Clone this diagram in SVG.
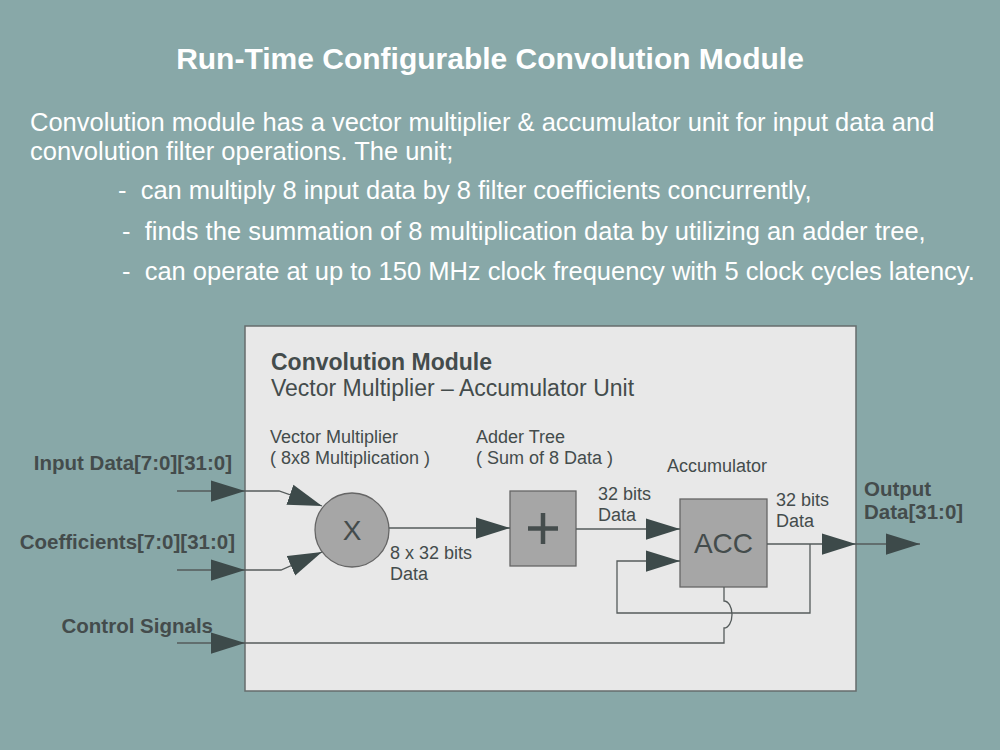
<svg xmlns="http://www.w3.org/2000/svg" width="1000" height="750" viewBox="0 0 1000 750">
<defs>
<style>
.w{fill:#fff;font-family:"Liberation Sans",Arial,sans-serif}
.d{fill:#444c4c;font-family:"Liberation Sans",Arial,sans-serif}
.b{font-weight:bold}
.ln{fill:none;stroke:#555b5b;stroke-width:1.3}
.blk{fill:#a6a6a6;stroke:#666;stroke-width:1.3}
</style>
<marker id="ah" markerUnits="userSpaceOnUse" markerWidth="34" markerHeight="22" viewBox="0 0 32 20" refX="32" refY="10" orient="auto">
<path d="M0,0 L32,10 L0,20 z" fill="#3d4a4a"/>
</marker>
</defs>
<rect x="0" y="0" width="1000" height="750" fill="#88a8a8"/>
<g id="title">
<text class="w b" x="490" y="69" font-size="30" text-anchor="middle">Run-Time Configurable Convolution Module</text>
</g>
<g id="description" class="w" font-size="25.5">
<text x="30" y="131">Convolution module has a vector multiplier &amp; accumulator unit for input data and</text>
<text x="30" y="160">convolution filter operations. The unit;</text>
<text x="118" y="199" xml:space="preserve">-  can multiply 8 input data by 8 filter coefficients concurrently,</text>
<text x="122" y="240" xml:space="preserve">-  finds the summation of 8 multiplication data by utilizing an adder tree,</text>
<text x="122" y="280" xml:space="preserve">-  can operate at up to 150 MHz clock frequency with 5 clock cycles latency.</text>
</g>
<g id="module">
<rect x="245" y="326" width="611" height="365" fill="#e8e8e8" stroke="#666c6c" stroke-width="1.5"/>
<text class="d b" x="271" y="370" font-size="23">Convolution Module</text>
<text class="d" x="271" y="396" font-size="23">Vector Multiplier – Accumulator Unit</text>
</g>
<g id="multiplier">
<circle class="blk" cx="352" cy="530" r="37"/>
<text class="d" x="352" y="540" font-size="28" text-anchor="middle">X</text>
<text class="d" x="270" y="443" font-size="18">Vector Multiplier</text>
<text class="d" x="270" y="464" font-size="18">( 8x8 Multiplication )</text>
</g>
<g id="adder">
<rect class="blk" x="510" y="491" width="66" height="75"/>
<path d="M543,513 V544 M528,528.5 H558" stroke="#454d4d" stroke-width="4.5" fill="none"/>
<text class="d" x="476" y="443" font-size="18">Adder Tree</text>
<text class="d" x="476" y="464" font-size="18">( Sum of 8 Data )</text>
</g>
<g id="accumulator">
<rect class="blk" x="680" y="499" width="87" height="88"/>
<text class="d" x="723.5" y="553" font-size="28" text-anchor="middle">ACC</text>
<text class="d" x="667" y="472" font-size="18">Accumulator</text>
</g>
<g id="connectors">
<path class="ln" d="M177,491 H245" marker-end="url(#ah)"/>
<path class="ln" d="M245,491 H279 L322,506" marker-end="url(#ah)"/>
<path class="ln" d="M177,570 H245" marker-end="url(#ah)"/>
<path class="ln" d="M245,570 H281 L322,552" marker-end="url(#ah)"/>
<path class="ln" d="M177,643 H245" marker-end="url(#ah)"/>
<path class="ln" d="M245,643 H724 V628 A8,13.5 0 0 0 724,601 V587"/>
<path class="ln" d="M389,528 H510" marker-end="url(#ah)"/>
<path class="ln" d="M576,529 H680" marker-end="url(#ah)"/>
<path class="ln" d="M767,544 H856" marker-end="url(#ah)"/>
<path class="ln" d="M856,544 H920" marker-end="url(#ah)"/>
<path class="ln" d="M810,544 V613 H617 V561 H680" marker-end="url(#ah)"/>
</g>
<g id="labels" class="d">
<text x="390" y="559" font-size="18">8 x 32 bits</text>
<text x="390" y="580" font-size="18">Data</text>
<text x="598" y="500" font-size="18">32 bits</text>
<text x="598" y="521" font-size="18">Data</text>
<text x="776" y="506" font-size="18">32 bits</text>
<text x="776" y="527" font-size="18">Data</text>
<text class="b" x="864" y="496" font-size="20.5">Output</text>
<text class="b" x="864" y="519" font-size="20.5">Data[31:0]</text>
<text class="b" x="232" y="470" font-size="20.5" text-anchor="end">Input Data[7:0][31:0]</text>
<text class="b" x="235" y="549" font-size="20.5" text-anchor="end">Coefficients[7:0][31:0]</text>
<text class="b" x="213" y="633" font-size="20.5" text-anchor="end">Control Signals</text>
</g>
</svg>
